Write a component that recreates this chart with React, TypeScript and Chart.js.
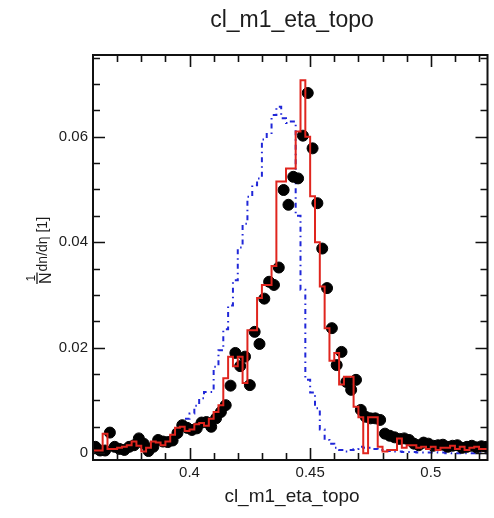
import React, { useEffect, useRef } from "react";
import { Chart, registerables } from "chart.js";

Chart.register(...registerables);

// ---- texts ----
const TITLE = "cl_m1_eta_topo";
const X_TITLE = "cl_m1_eta_topo";
const Y_TITLE_NUM = "1";
const Y_TITLE_DEN = "N";
const Y_TITLE_REST = "dn/dη [1]";

// ---- axes ----
const X_MIN = 0.36;
const X_MAX = 0.5235;
const Y_MIN = -0.0013;
const Y_MAX = 0.0755;
const BIN_WIDTH = 0.002;

const X_MAJOR_TICKS = [0.4, 0.45, 0.5];
const X_TICK_LABELS = ["0.4", "0.45", "0.5"];
const X_MINOR_TICKS = [0.37, 0.38, 0.39, 0.41, 0.42, 0.43, 0.44, 0.46, 0.47, 0.48, 0.49, 0.51, 0.52];
const Y_MAJOR_TICKS = [0, 0.02, 0.04, 0.06];
const Y_TICK_LABELS = ["0", "0.02", "0.04", "0.06"];
const Y_MINOR_TICKS = [0.005, 0.01, 0.015, 0.025, 0.03, 0.035, 0.045, 0.05, 0.055, 0.065, 0.07, 0.075];

// ---- series (one value per bin, 82 bins of width 0.002 starting at 0.36) ----
const DATA_VALUES = [
  0.0012, 0.0005, 0.0005, 0.0039, 0.0012, 0.0008, 0.0006, 0.0012, 0.0015, 0.0028,
  0.0018, 0.0004, 0.0012, 0.0025, 0.0022, 0.0021, 0.0024, 0.0038, 0.0053, 0.0048,
  0.0044, 0.0047, 0.0058, 0.0059, 0.005, 0.0066, 0.0078, 0.0091, 0.0128, 0.019,
  0.0165, 0.0183, 0.0129, 0.023, 0.0207, 0.0293, 0.0325, 0.0319, 0.0352, 0.0499,
  0.0471, 0.0524, 0.0521, 0.0602, 0.0683, 0.0578, 0.0474, 0.0388, 0.0313, 0.0237,
  0.0167, 0.0192, 0.0135, 0.012, 0.0139, 0.0082, 0.0069, 0.0066, 0.0066, 0.0063,
  0.0037, 0.0033, 0.003, 0.0027, 0.0028, 0.0025, 0.0018, 0.0015, 0.002, 0.0018,
  0.0014, 0.0015, 0.0016, 0.0012, 0.0014, 0.0015, 0.001, 0.0012, 0.0014, 0.0011,
  0.0013, 0.0012,
];

const RED_VALUES = [
  0.0005, 0.0005, 0.0005, 0.0037, 0.0008, 0.0008, 0.001, 0.0012, 0.0015, 0.0022,
  0.0014, 0.0003, 0.001, 0.0022, 0.002, 0.0015, 0.0022, 0.0035, 0.0048, 0.005,
  0.0042, 0.0045, 0.0055, 0.0057, 0.0052, 0.0065, 0.0078, 0.0091, 0.0142, 0.0183,
  0.0165, 0.0183, 0.0133, 0.0233, 0.0233, 0.0294, 0.0319, 0.0319, 0.0355, 0.0515,
  0.0515, 0.054, 0.054, 0.061, 0.0707, 0.06, 0.0487, 0.04, 0.0316, 0.0237,
  0.0175, 0.019, 0.013, 0.0145, 0.0145, 0.0088, 0.0068, 0.0, 0.0068, 0.0068,
  0.0012, 0.0003, 0.0006, 0.0006, 0.0028, 0.001, 0.0015, 0.0015, 0.001, 0.0012,
  0.0008, 0.0012, 0.0006, 0.001, 0.001, 0.0014, 0.0008, 0.0012, 0.0006, 0.001,
  0.0012, 0.0008,
];

const BLUE_VALUES = [
  0.0004, 0.0005, 0.0004, 0.0006, 0.0005, 0.0007, 0.0008, 0.001, 0.0009, 0.0012,
  0.0015, 0.0012, 0.0015, 0.002, 0.0022, 0.0025, 0.003, 0.0035, 0.0045, 0.0055,
  0.0065, 0.0075, 0.009, 0.0104, 0.0116, 0.0116, 0.0164, 0.0195, 0.0235, 0.028,
  0.0328, 0.039, 0.0435, 0.0486, 0.0508, 0.0521, 0.0595, 0.0605, 0.0641, 0.0657,
  0.0635, 0.0626, 0.0629, 0.045, 0.031, 0.0139, 0.0115, 0.0085, 0.0045, 0.0025,
  0.0018, 0.001, 0.0006, 0.0003, 0.0006, 0.0008, 0.0012, 0.001, 0.001, 0.0008,
  0.0006, 0.0005, 0.0004, 0.0003, 0.0003, 0.0002, 0.0002, 0.0002, 0.0001, 0.0001,
  0.0001, 0.0001, 0.0001, 0.0001, 0.0, 0.0, 0.0, 0.0, 0.0, 0.0,
  0.0, 0.0,
];

// ---- styles ----
const FONT = '"Liberation Sans", Arial, Helvetica, sans-serif';
const TEXT_COLOR = "#1c1c1c";
const RED = "#e0251e";
const BLUE = "#2027d8";

const binLow = (i: number) => +(X_MIN + i * BIN_WIDTH).toFixed(4);
const binCenter = (i: number) => +(X_MIN + (i + 0.5) * BIN_WIDTH).toFixed(4);

function stepPoints(values: number[]) {
  const pts = values.map((v, i) => ({ x: binLow(i), y: v }));
  pts.push({ x: binLow(values.length), y: values[values.length - 1] });
  return pts;
}

const framePlugin = {
  id: "rootFrame",
  afterDraw(chart: any) {
    const { ctx, chartArea: a, scales } = chart;
    const xs = scales.x;
    const ys = scales.y;
    ctx.save();
    ctx.strokeStyle = "#111";
    ctx.lineWidth = 2;
    ctx.strokeRect(a.left, a.top, a.right - a.left, a.bottom - a.top);

    const MAJ = 12;
    const MIN = 7;
    ctx.lineWidth = 1.6;
    const xTick = (v: number, len: number) => {
      const px = Math.round(xs.getPixelForValue(v)) + 0.5;
      ctx.beginPath();
      ctx.moveTo(px, a.bottom);
      ctx.lineTo(px, a.bottom - len);
      ctx.moveTo(px, a.top);
      ctx.lineTo(px, a.top + len);
      ctx.stroke();
    };
    const yTick = (v: number, len: number) => {
      const py = Math.round(ys.getPixelForValue(v)) + 0.5;
      ctx.beginPath();
      ctx.moveTo(a.left, py);
      ctx.lineTo(a.left + len, py);
      ctx.moveTo(a.right, py);
      ctx.lineTo(a.right - len, py);
      ctx.stroke();
    };
    X_MINOR_TICKS.forEach((v) => xTick(v, MIN));
    X_MAJOR_TICKS.forEach((v) => xTick(v, MAJ));
    Y_MINOR_TICKS.forEach((v) => yTick(v, MIN));
    Y_MAJOR_TICKS.forEach((v) => yTick(v, MAJ));

    ctx.fillStyle = TEXT_COLOR;
    ctx.font = `15px ${FONT}`;
    ctx.textAlign = "center";
    ctx.textBaseline = "top";
    X_MAJOR_TICKS.forEach((v, i) => {
      ctx.fillText(X_TICK_LABELS[i], xs.getPixelForValue(v), a.bottom + 5);
    });
    ctx.textAlign = "right";
    ctx.textBaseline = "middle";
    Y_MAJOR_TICKS.forEach((v, i) => {
      ctx.fillText(Y_TICK_LABELS[i], a.left - 5, ys.getPixelForValue(v));
    });

    // titles
    ctx.textAlign = "center";
    ctx.textBaseline = "middle";
    ctx.font = `23px ${FONT}`;
    ctx.fillText(TITLE, 292, 21);
    ctx.font = `19px ${FONT}`;
    ctx.fillText(X_TITLE, 292, 497);

    // y title (rotated, ROOT-like fraction)
    ctx.save();
    ctx.translate(51, 284);
    ctx.rotate(-Math.PI / 2);
    ctx.textAlign = "left";
    ctx.textBaseline = "alphabetic";
    ctx.font = `16px ${FONT}`;
    const nW = ctx.measureText(Y_TITLE_DEN).width;
    ctx.fillText(Y_TITLE_DEN, 0, 0);
    ctx.font = `12px ${FONT}`;
    const oneW = ctx.measureText(Y_TITLE_NUM).width;
    ctx.fillText(Y_TITLE_NUM, (nW - oneW) / 2, -16);
    ctx.strokeStyle = TEXT_COLOR;
    ctx.lineWidth = 1.3;
    ctx.beginPath();
    ctx.moveTo(0, -14);
    ctx.lineTo(nW, -14);
    ctx.stroke();
    ctx.font = `14px ${FONT}`;
    ctx.fillText(Y_TITLE_REST, nW + 1, -4);
    ctx.restore();

    ctx.restore();
  },
};

export default function App() {
  const ref = useRef<HTMLCanvasElement | null>(null);
  useEffect(() => {
    if (!ref.current) return;
    const chart = new Chart(ref.current, {
      type: "line",
      data: {
        datasets: [
          {
            label: "red",
            data: stepPoints(RED_VALUES),
            stepped: "after",
            borderColor: RED,
            borderWidth: 2,
            pointRadius: 0,
            fill: false,
            order: 0,
          } as any,
          {
            label: "data",
            type: "scatter",
            data: DATA_VALUES.map((v, i) => ({ x: binCenter(i), y: v })),
            pointRadius: 5.5,
            pointBackgroundColor: "#000",
            pointBorderColor: "#000",
            backgroundColor: "#000",
            borderColor: "#000",
            showLine: false,
            order: 1,
          } as any,
          {
            label: "blue",
            data: stepPoints(BLUE_VALUES),
            stepped: "after",
            borderColor: BLUE,
            borderWidth: 2,
            borderDash: [5, 4, 1.5, 4],
            pointRadius: 0,
            fill: false,
            order: 2,
          } as any,
        ],
      },
      options: {
        animation: false,
        responsive: false,
        devicePixelRatio: 1,
        layout: { padding: { left: 93, right: 2, top: 55, bottom: 58 } },
        scales: {
          x: { type: "linear", min: X_MIN, max: X_MAX, display: false },
          y: { type: "linear", min: Y_MIN, max: Y_MAX, display: false },
        },
        plugins: { legend: { display: false }, tooltip: { enabled: false } },
      },
      plugins: [framePlugin],
    });
    return () => chart.destroy();
  }, []);
  return (
    <canvas
      ref={ref}
      width={494}
      height={518}
      style={{ position: "fixed", left: 0, top: 0, width: 494, height: 518, background: "#fff" }}
    />
  );
}
